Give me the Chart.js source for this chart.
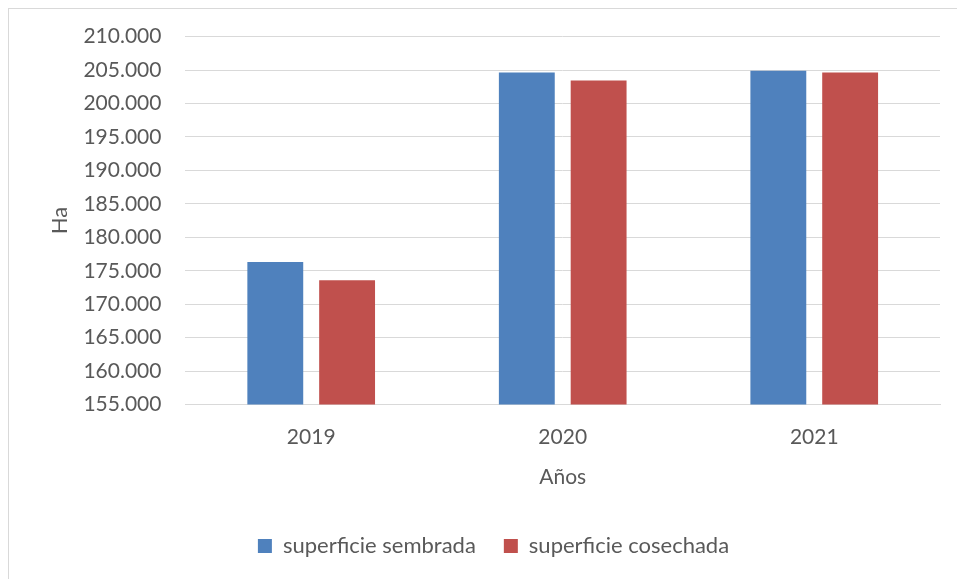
<!DOCTYPE html>
<html>
<head>
<meta charset="utf-8">
<script src="https://cdn.jsdelivr.net/npm/chart.js@4"></script>
<style>
  html, body { margin: 0; padding: 0; background: #fff; }
  #wrap { position: relative; width: 957px; height: 579px; }
  #frame { position: absolute; left: 8px; top: 8px; right: 0; bottom: 0;
           border-left: 1px solid #d9d9d9; border-top: 1px solid #d9d9d9; }
  canvas { position: absolute; left: 0; top: 0; }
</style>
</head>
<body>
<div id="wrap">
  <div id="frame"></div>
  <canvas id="chart" width="957" height="579"></canvas>
</div>
<script>
const years = ['2019', '2020', '2021'];
const sembrada = [176330, 204650, 204900];
const cosechada = [173580, 203450, 204650];

const textColor = '#595959';
const fontFamily = "Lato, 'Open Sans', sans-serif";

function fmt(v) {
    return String(v).replace(/\B(?=(\d{3})+(?!\d))/g, '.');
}

document.addEventListener('DOMContentLoaded', () => {
    const ctx = document.getElementById('chart').getContext('2d');
    new Chart(ctx, {
        type: 'bar',
        data: {
            labels: years,
            datasets: [{
                label: 'superficie sembrada',
                data: sembrada,
                backgroundColor: '#4f81bd',
                categoryPercentage: 0.571,
                barPercentage: 0.778
            }, {
                label: 'superficie cosechada',
                data: cosechada,
                backgroundColor: '#c0504d',
                categoryPercentage: 0.571,
                barPercentage: 0.778
            }]
        },
        options: {
            responsive: false,
            animation: false,
            layout: { padding: { left: 47, right: 17, top: 30, bottom: 12 } },
            plugins: {
                legend: {
                    position: 'bottom',
                    labels: {
                        color: textColor,
                        boxWidth: 14,
                        boxHeight: 14,
                        padding: 28,
                        font: { family: fontFamily, size: 22 }
                    }
                },
                tooltip: { enabled: false }
            },
            scales: {
                x: {
                    grid: { display: false, drawTicks: false },
                    border: { display: true, color: '#d9d9d9', width: 1 },
                    ticks: { color: textColor, padding: 20, font: { family: fontFamily, size: 21 } },
                    title: {
                        display: true,
                        text: 'Años',
                        color: textColor,
                        padding: { top: -5, bottom: 17 },
                        font: { family: fontFamily, size: 21 }
                    }
                },
                y: {
                    min: 155000,
                    max: 210000,
                    grid: { color: '#d9d9d9', lineWidth: 1, drawTicks: false },
                    border: { display: false },
                    ticks: {
                        stepSize: 5000,
                        color: textColor,
                        padding: 24,
                        font: { family: fontFamily, size: 21 },
                        callback: v => fmt(v)
                    },
                    title: {
                        display: true,
                        text: 'Ha',
                        color: textColor,
                        padding: { top: 0, bottom: -14 },
                        font: { family: fontFamily, size: 22 }
                    }
                }
            }
        }
    });
});
</script>
</body>
</html>
